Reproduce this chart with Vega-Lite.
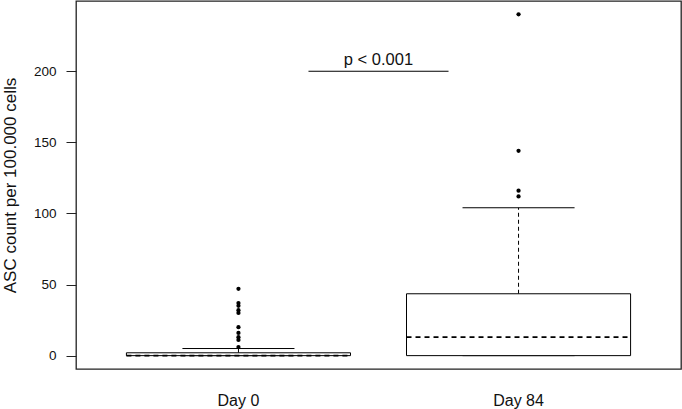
{
  "$schema": "https://vega.github.io/schema/vega-lite/v6.json",
  "width": 605,
  "height": 368,
  "autosize": {"type": "none"},
  "padding": {"left": 76, "top": 1, "right": 1, "bottom": 40},
  "background": "white",
  "config": {
    "font": "Liberation Sans",
    "view": {"stroke": "#222", "strokeWidth": 1.3},
    "axis": {"grid": false, "domain": false}
  },
  "datasets": {
    "stats": [
      {"group": "Day 0", "min": 0, "q1": 0, "median": 0, "q3": 2, "upper": 5},
      {"group": "Day 84", "min": 0, "q1": 0, "median": 13, "q3": 43.5, "upper": 104}
    ],
    "outliers": [
      {"group": "Day 0", "value": 47},
      {"group": "Day 0", "value": 37},
      {"group": "Day 0", "value": 35},
      {"group": "Day 0", "value": 32},
      {"group": "Day 0", "value": 30},
      {"group": "Day 0", "value": 20},
      {"group": "Day 0", "value": 16},
      {"group": "Day 0", "value": 13},
      {"group": "Day 0", "value": 11},
      {"group": "Day 0", "value": 6},
      {"group": "Day 84", "value": 240},
      {"group": "Day 84", "value": 144},
      {"group": "Day 84", "value": 116},
      {"group": "Day 84", "value": 112}
    ],
    "annot": [
      {"from": "Day 0", "to": "Day 84", "y": 200, "label": "p < 0.001"}
    ]
  },
  "layer": [
    {
      "data": {"name": "stats"},
      "mark": {"type": "rule", "strokeDash": [4, 3], "color": "black"},
      "encoding": {
        "x": {
          "field": "group",
          "type": "nominal",
          "bandPosition": 0.5,
          "scale": {"domain": ["Day 0", "Day 84"], "paddingInner": 0, "paddingOuter": 0.08},
          "axis": {"title": null, "ticks": false, "labelAngle": 0, "labelFontSize": 16, "labelColor": "#111", "labelPadding": 23}
        },
        "y": {
          "field": "q3",
          "type": "quantitative",
          "scale": {"domain": [-9.4, 249.4], "nice": false, "zero": false},
          "axis": {"title": "ASC count per 100.000 cells", "titleFontSize": 17, "titleFontWeight": "normal", "titleColor": "#111", "titlePadding": 14, "values": [0, 50, 100, 150, 200], "tickSize": 10, "tickColor": "#222", "labelFontSize": 13.5, "labelColor": "#111", "labelPadding": 10}
        },
        "y2": {"field": "upper"}
      }
    },
    {
      "data": {"name": "stats"},
      "mark": {"type": "rule", "color": "black"},
      "encoding": {
        "x": {"field": "group", "type": "nominal", "bandPosition": 0.3},
        "x2": {"field": "group", "bandPosition": 0.7},
        "y": {"field": "upper", "type": "quantitative"}
      }
    },
    {
      "data": {"name": "stats"},
      "mark": {"type": "rule", "color": "black"},
      "encoding": {
        "x": {"field": "group", "type": "nominal", "bandPosition": 0.3},
        "x2": {"field": "group", "bandPosition": 0.7},
        "y": {"field": "min", "type": "quantitative"}
      }
    },
    {
      "data": {"name": "stats"},
      "mark": {"type": "rect", "fill": "white", "stroke": "black", "strokeWidth": 1},
      "encoding": {
        "x": {"field": "group", "type": "nominal", "bandPosition": 0.1},
        "x2": {"field": "group", "bandPosition": 0.9},
        "y": {"field": "q1", "type": "quantitative"},
        "y2": {"field": "q3"}
      }
    },
    {
      "data": {"name": "stats"},
      "mark": {"type": "rule", "color": "black", "strokeWidth": 1.6, "strokeDash": [5, 4]},
      "encoding": {
        "x": {"field": "group", "type": "nominal", "bandPosition": 0.1},
        "x2": {"field": "group", "bandPosition": 0.9},
        "y": {"field": "median", "type": "quantitative"}
      }
    },
    {
      "data": {"name": "outliers"},
      "mark": {"type": "circle", "color": "black", "opacity": 1, "size": 18},
      "encoding": {
        "x": {"field": "group", "type": "nominal", "bandPosition": 0.5},
        "y": {"field": "value", "type": "quantitative"}
      }
    },
    {
      "data": {"name": "annot"},
      "mark": {"type": "rule", "color": "black", "strokeWidth": 1.2},
      "encoding": {
        "x": {"field": "from", "type": "nominal", "bandPosition": 0.75},
        "x2": {"field": "to", "bandPosition": 0.25},
        "y": {"field": "y", "type": "quantitative"}
      }
    },
    {
      "data": {"name": "annot"},
      "mark": {"type": "text", "fontSize": 16.5, "color": "#111", "baseline": "alphabetic", "dy": -6, "dx": 70, "font": "Liberation Sans"},
      "encoding": {
        "x": {"field": "from", "type": "nominal", "bandPosition": 0.75},
        "y": {"field": "y", "type": "quantitative"},
        "text": {"field": "label"}
      }
    }
  ]
}
